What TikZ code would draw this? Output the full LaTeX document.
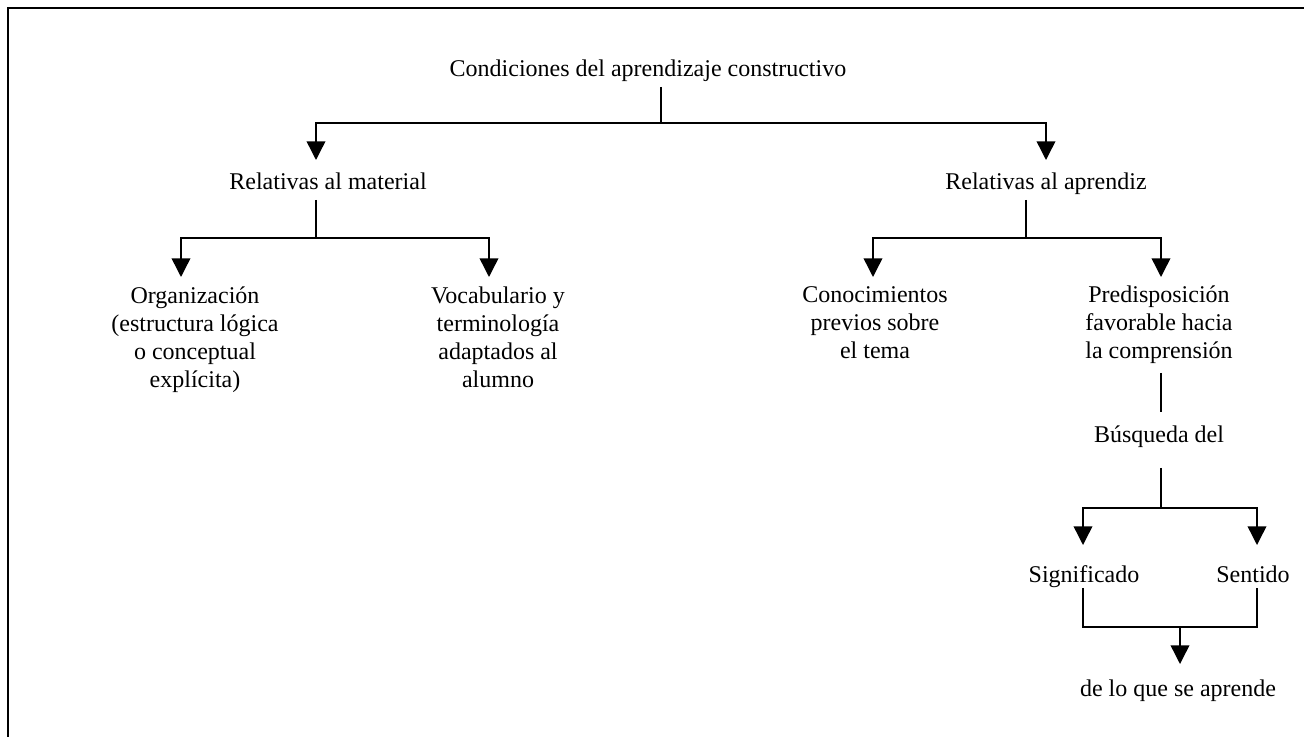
\documentclass[tikz,border=0pt]{standalone}
\usepackage{fontspec}
\setmainfont{Liberation Serif}
\usetikzlibrary{arrows.meta}

\begin{document}
\begin{tikzpicture}[x=0.75pt,y=-0.75pt]
        \tikzset{
            txt/.style = {inner sep=0pt, anchor=base, align=center, font=\fontsize{18}{21.2}\selectfont},
            link/.style = {line width=1.1pt},
            arrow/.style = {line width=1.1pt, -{Triangle[width=14pt,length=14pt]}}
        }
        \useasboundingbox (0,0) rectangle (1304,737);
        \draw [line width=1.5pt] (8,737) -- (8,8) -- (1304,8);

        % text (base = last line)
        \node (title) [txt] at (648,77) {Condiciones del aprendizaje constructivo};
        \node (mat) [txt] at (328,190) {Relativas al material};
        \node (apr) [txt] at (1046,190) {Relativas al aprendiz};
        \node (org) [txt] at (195,388) {Organización\\(estructura lógica\\o conceptual\\explícita)};
        \node (voc) [txt] at (498,388) {Vocabulario y\\terminología\\adaptados al\\alumno};
        \node (con) [txt] at (875,359) {Conocimientos\\previos sobre\\el tema};
        \node (pre) [txt] at (1159,359) {Predisposición\\favorable hacia\\la comprensión};
        \node (bus) [txt] at (1159,443) {Búsqueda del};
        \node (sig) [txt] at (1084,583) {Significado};
        \node (sen) [txt] at (1253,583) {Sentido};
        \node (lo) [txt] at (1178,696) {de lo que se aprende};

        % junctions
        \coordinate (t0) at (661,87);
        \coordinate (j0) at (661,123);
        \coordinate (tmat) at (316,160);
        \coordinate (tapr) at (1046,160);
        \coordinate (m0) at (316,200);
        \coordinate (j1) at (316,238);
        \coordinate (torg) at (181,277);
        \coordinate (tvoc) at (489,277);
        \coordinate (a0) at (1026,200);
        \coordinate (j2) at (1026,238);
        \coordinate (tcon) at (873,277);
        \coordinate (tpre) at (1161,277);
        \coordinate (p0) at (1161,373);
        \coordinate (p1) at (1161,412);
        \coordinate (b0) at (1161,468);
        \coordinate (j3) at (1161,508);
        \coordinate (tsig) at (1083,545);
        \coordinate (tsen) at (1257,545);
        \coordinate (s0) at (1083,588);
        \coordinate (s1) at (1257,588);
        \coordinate (j4) at (1180,627);
        \coordinate (tlo) at (1180,664);

        \draw [link] (t0) -- (j0);
        \draw [arrow] (j0) -| (tmat);
        \draw [arrow] (j0) -| (tapr);

        \draw [link] (m0) -- (j1);
        \draw [arrow] (j1) -| (torg);
        \draw [arrow] (j1) -| (tvoc);

        \draw [link] (a0) -- (j2);
        \draw [arrow] (j2) -| (tcon);
        \draw [arrow] (j2) -| (tpre);

        \draw [link] (p0) -- (p1);
        \draw [link] (b0) -- (j3);
        \draw [arrow] (j3) -| (tsig);
        \draw [arrow] (j3) -| (tsen);

        \draw [link] (s0) |- (j4 -| s1) -- (s1);
        \draw [arrow] (j4) -- (tlo);

    \end{tikzpicture}
\end{document}
